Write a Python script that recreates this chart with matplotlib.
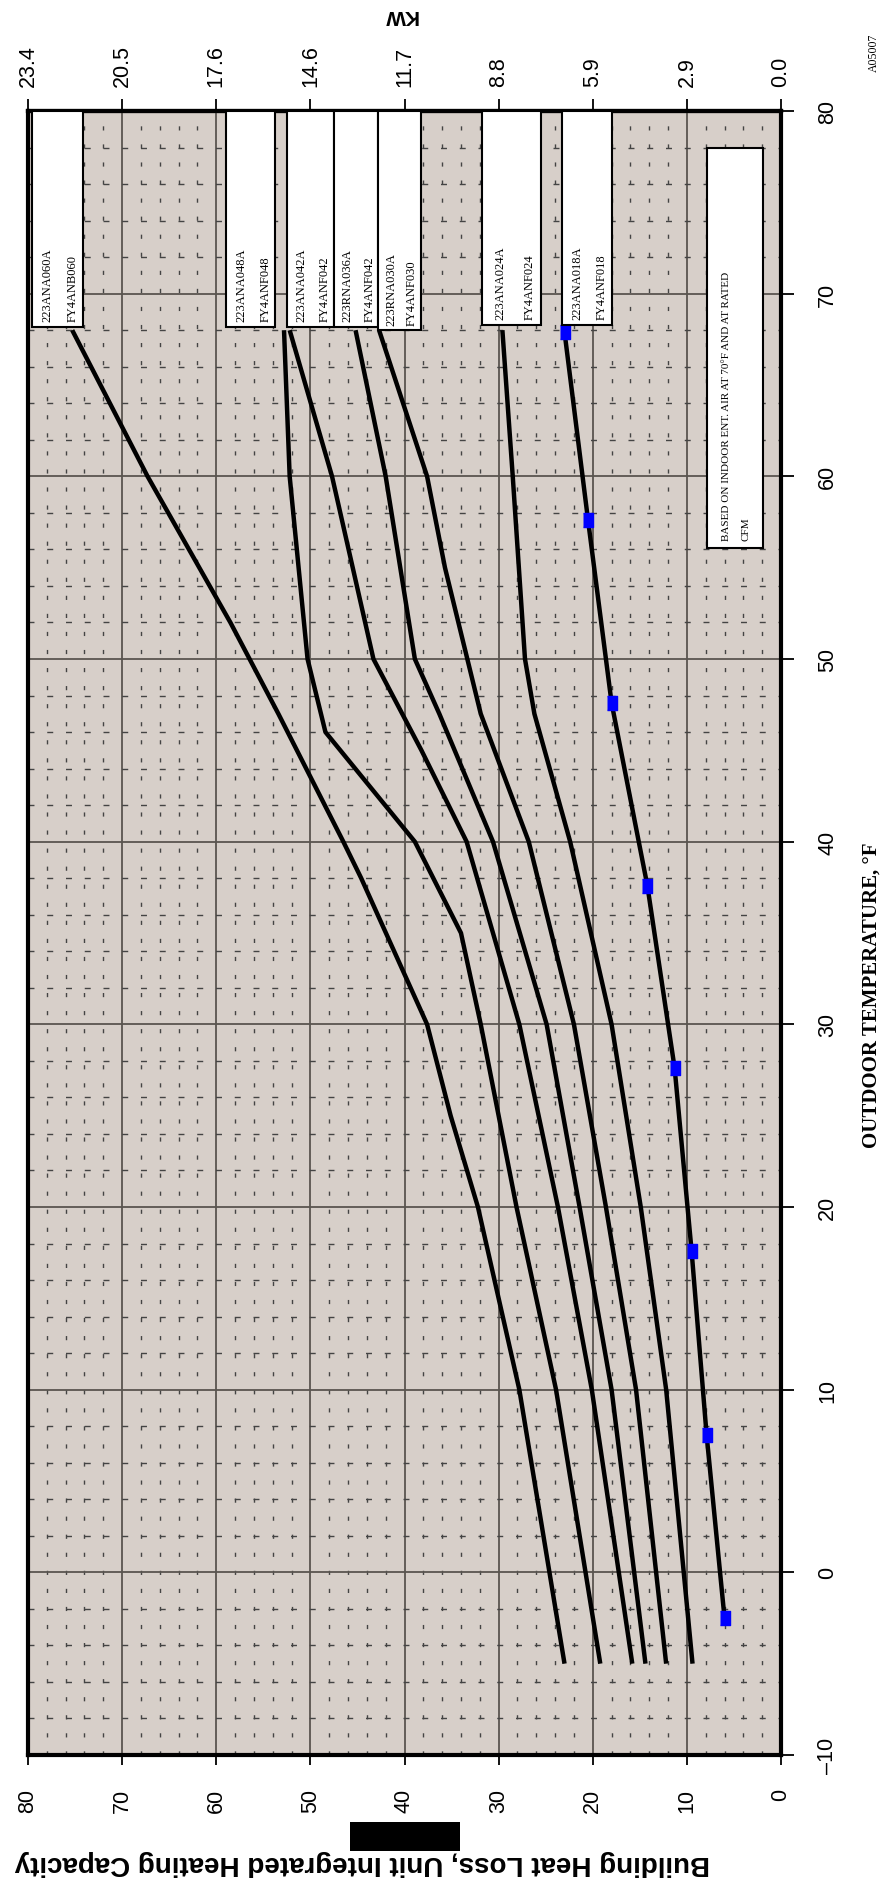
import matplotlib
matplotlib.use("Agg")
import matplotlib.pyplot as plt
from matplotlib.patches import Rectangle
import numpy as np

# outdoor temperature (F) and capacity (MBtuh)
t_060 = [-5, 10, 20, 25, 30, 38, 40, 47, 52, 60, 68]
c_060 = [23.0, 27.8, 32.2, 35.1, 37.6, 44.6, 46.5, 53.4, 58.5, 67.3, 75.3]
t_048 = [-5, 10, 20, 30, 35, 40, 46, 50, 60, 68]
c_048 = [19.2, 23.9, 28.1, 31.9, 34.0, 38.9, 48.4, 50.3, 52.2, 52.8]
t_042 = [-5, 10, 20, 30, 40, 45, 50, 60, 68]
c_042 = [15.8, 20.1, 23.7, 27.8, 33.4, 38.2, 43.3, 47.7, 52.2]
t_036 = [-5, 10, 20, 30, 40, 47, 50, 60, 68]
c_036 = [14.4, 18.0, 21.4, 24.9, 30.6, 36.3, 38.9, 42.0, 45.2]
t_030 = [-5, 10, 20, 30, 40, 47, 55, 60, 68]
c_030 = [12.2, 15.4, 18.6, 22.0, 26.8, 31.9, 35.7, 37.6, 42.7]
t_024 = [-5, 10, 20, 30, 40, 47, 50, 60, 68]
c_024 = [9.4, 12.2, 14.9, 18.0, 22.4, 26.2, 27.2, 28.5, 29.6]
t_018 = [-2.5, 7.5, 17.6, 27.6, 37.6, 47.6, 57.6, 67.9]
c_018 = [6.0, 7.9, 9.5, 11.3, 14.2, 18.0, 20.5, 23.0]

curves = [(t_060, c_060), (t_048, c_048), (t_042, c_042), (t_036, c_036),
          (t_030, c_030), (t_024, c_024), (t_018, c_018)]

# label boxes: (capacity left, capacity right, bottom temp, line1, line2)
boxes = [
    (79.6, 74.2, 68.2, "223ANA060A", "FY4ANB060"),
    (59.0, 53.75, 68.2, "223ANA048A", "FY4ANF048"),
    (52.5, 47.5, 68.2, "223ANA042A", "FY4ANF042"),
    (47.5, 42.8, 68.2, "223RNA036A", "FY4ANF042"),
    (42.8, 38.3, 68.0, "223RNA030A", "FY4ANF030"),
    (31.75, 25.5, 68.3, "223ANA024A", "FY4ANF024"),
    (23.3, 18.0, 68.3, "223ANA018A", "FY4ANF018"),
]

cap_ticks = [0, 10, 20, 30, 40, 50, 60, 70, 80]
kw_labels = ["0.0", "2.9", "5.9", "8.8", "11.7", "14.6", "17.6", "20.5", "23.4"]
temp_ticks = [-10, 0, 10, 20, 30, 40, 50, 60, 70, 80]

fig = plt.figure(figsize=(8.85, 18.83), dpi=100)
ax = fig.add_axes([28 / 885, 1 - 1756 / 1883, (781 - 28) / 885, (1756 - 112) / 1883])
ax.set_facecolor("#d7cfc9")
ax.set_xlim(80, 0)
ax.set_ylim(-10, 80)

# grid
for c in np.arange(0, 81, 2):
    if c % 10 == 0:
        ax.axvline(c, color="#5a5550", lw=1.3, zorder=1)
    else:
        ax.axvline(c, color="#444444", lw=1.0, dashes=(3, 10), zorder=1)
for t in np.arange(-10, 81, 2):
    if t % 10 == 0:
        ax.axhline(t, color="#5a5550", lw=1.3, zorder=1)
    else:
        ax.axhline(t, color="#444444", lw=1.0, dashes=(4.3, 9.2), zorder=1)

for t, c in curves:
    ax.plot(c, t, color="black", lw=3.2, solid_capstyle="butt", zorder=3)

marker = [(-0.7, -1), (0.7, -1), (0.7, 1), (-0.7, 1)]
ax.plot(c_018, t_018, ls="none", marker=marker, ms=10, color="#0000ff", zorder=4)

for cl, cr, tb, l1, l2 in boxes:
    ax.add_patch(Rectangle((cr, tb), cl - cr, 80 - tb, facecolor="white",
                           edgecolor="black", lw=1.5, zorder=5))
    w = cl - cr
    ax.text(cl - w * 0.31, tb + 0.3, l1, rotation=90, ha="center", va="bottom",
            family="Liberation Serif", fontsize=9, zorder=6)
    ax.text(cl - w * 0.80, tb + 0.3, l2, rotation=90, ha="center", va="bottom",
            family="Liberation Serif", fontsize=9, zorder=6)

ax.add_patch(Rectangle((1.9, 56.1), 7.84 - 1.9, 78.0 - 56.1, facecolor="white",
                       edgecolor="black", lw=1.5, zorder=5))
ax.text(5.8, 56.5, "BASED ON INDOOR ENT. AIR AT 70°F AND AT RATED", rotation=90,
        ha="center", va="bottom", family="Liberation Serif", fontsize=8, zorder=6)
ax.text(3.7, 56.5, "CFM", rotation=90, ha="center", va="bottom",
        family="Liberation Serif", fontsize=8, zorder=6)

for s in ax.spines.values():
    s.set_linewidth(3)

ax.set_xticks(cap_ticks)
ax.set_xticklabels([str(v) for v in cap_ticks], rotation=90, family="Liberation Sans",
                   fontsize=15.5)
ax.set_yticks(temp_ticks)
ax.set_yticklabels(["\u201310" if v < 0 else str(v) for v in temp_ticks], rotation=90,
                   family="Liberation Sans", fontsize=15.5, va="center")
ax.yaxis.tick_right()
ax.tick_params(axis="x", direction="out", length=7, width=1.3, pad=17)
ax.tick_params(axis="y", direction="out", length=9, width=1.3, pad=17)

top = ax.secondary_xaxis("top")
top.set_xticks(cap_ticks)
top.set_xticklabels(kw_labels, rotation=90, family="Liberation Sans", fontsize=15.5)
top.tick_params(direction="out", length=9, width=1.3, pad=9)
top.spines["top"].set_linewidth(3)

fig.text(400 / 885, 1 - 15 / 1883, "KW", rotation=180, ha="center", va="center",
         family="Liberation Sans", fontweight="bold", fontsize=15)
fig.text(362 / 885, 1 - 1863 / 1883,
         "Building Heat Loss, Unit Integrated Heating Capacity", rotation=180,
         ha="center", va="center", family="Liberation Sans", fontweight="bold",
         fontsize=20)
fig.text(872 / 885, 1 - 995 / 1883, "OUTDOOR TEMPERATURE, °F", rotation=90,
         ha="center", va="center", family="Liberation Serif", fontweight="bold",
         fontsize=15)
fig.text(874 / 885, 1 - 53 / 1883, "A05007", rotation=90, ha="center", va="center",
         family="Liberation Serif", fontsize=8.5)
fig.patches.append(Rectangle((350 / 885, 1 - 1852 / 1883), 110 / 885, 29 / 1883,
                             transform=fig.transFigure, facecolor="black",
                             edgecolor="none"))

fig.savefig("out.png", dpi=100)
